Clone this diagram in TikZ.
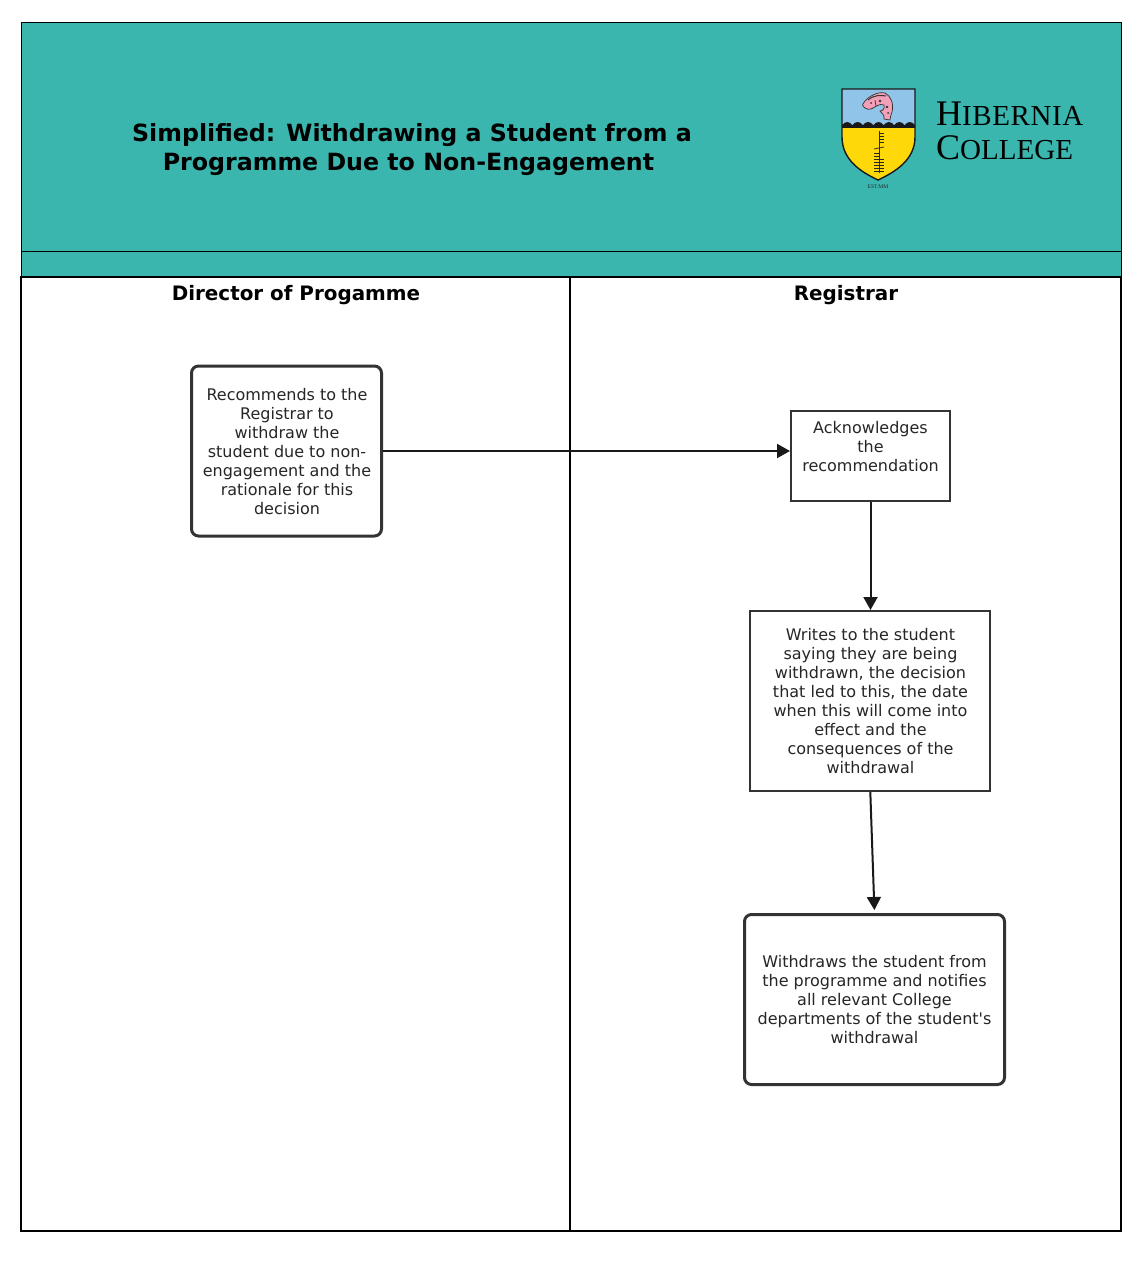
\documentclass[tikz,border=0pt]{standalone}
\usepackage{fontspec}
\setmainfont[Ligatures=TeXOff]{DejaVu Sans}
\newfontfamily\logofont{Liberation Serif}
\usetikzlibrary{arrows.meta}
\definecolor{teal1}{HTML}{3AB6AE}
\definecolor{sky1}{HTML}{90C4E8}
\definecolor{gold1}{HTML}{FFD80A}
\definecolor{pink1}{HTML}{F2A0B8}
\definecolor{edge1}{HTML}{333333}
\tikzset{
  x=1pt,y=-1pt,
  body/.style={font=\fontsize{16pt}{19pt}\selectfont,align=center,text=black!85,inner sep=0pt},
  plainbox/.style={draw=edge1,line width=2pt,fill=white,minimum width=#1,inner sep=0pt},
  roundbox/.style={draw=edge1,line width=3pt,rounded corners=7pt,fill=white,inner sep=0pt},
  link/.style={draw=black!90,line width=2pt,-{Triangle[length=13pt,width=14pt]}},
  lane/.style={draw=black,line width=2pt},
  lanehead/.style={font=\fontsize{19.9pt}{24pt}\selectfont\bfseries,inner sep=0pt,text=black},
  logotext/.style={font=\logofont,anchor=base west,inner sep=0pt,text=black},
  logoline/.style={black!85,line width=0.7pt},
}
\begin{document}
\begin{tikzpicture}
\useasboundingbox (0,0) rectangle (1143,1277);
\fill[white] (0,0) rectangle (1143,1277);
% header
\fill[teal1] (21,22) rectangle (1121,277);
\draw[black,line width=1pt] (21,22) rectangle (1121,251);
\draw[black,line width=1pt] (21,251) -- (21,277) (1121,251) -- (1121,277);
% lanes
\draw[lane] (21,277) rectangle (1121,1231);
\draw[lane] (570,277) -- (570,1231);
\node[lanehead] (h1) at (296,295) {Director of Progamme};
\node[lanehead] (h2) at (846,295) {Registrar};
\node[font=\fontsize{23.7pt}{29pt}\selectfont\bfseries,align=center,inner sep=0pt,text=black] (title) at (412,150)
  {Simplified: Withdrawing a Student from a\\Programme Due to Non-Engagement\kern7pt};
% logo shield
\fill[sky1] (842,89) rectangle (915,125);
\fill[gold1] (842,127) -- (915,127) -- (915,137) .. controls (915,160) and (895,172) .. (878,180) .. controls (861,172) and (842,160) .. (842,137) -- cycle;
\fill[black!90] (842,125) rectangle (915,127.5);
\foreach \xx in {842,852.43,862.86,873.29,883.72,894.15,904.58}{
  \fill[black!90] (\xx,125.2) .. controls (\xx+3,121) and (\xx+7.4,121) .. (\xx+10.43,125.2) -- cycle;}
\draw[black!90,line width=1.4pt] (842,89) -- (915,89) -- (915,137) .. controls (915,160) and (895,172) .. (878,180) .. controls (861,172) and (842,160) .. (842,137) -- cycle;
% fish
\fill[pink1,draw=black!80,line width=0.7pt] (862.5,105) .. controls (866,97) and (878,91) .. (885,93) .. controls (891,96) and (894,104) .. (892,112) .. controls (891,115) and (890,117) .. (890,120) .. controls (888,119) and (885,120) .. (884,119) .. controls (885,116) and (882,113) .. (880,111) .. controls (883,111) and (885,108) .. (884,105) .. controls (879,103) and (876,107) .. (871,109) .. controls (867,110) and (864,108) .. (862.5,105) -- cycle;
\draw[black!80,line width=1pt] (868,100) .. controls (874,95) and (880,95) .. (886,96);
\fill[black!80] (871,103) circle (1pt) (880,101) circle (1.3pt) (887,107) circle (1.3pt) (888,113) circle (1pt);
\draw[black!80,line width=0.7pt] (875,100) -- (876,106);
% ogham
\draw[logoline] (879,131) -- (879,173);
\foreach \yy in {133,136,139,142}{\draw[logoline] (879,\yy) -- (884,\yy);}
\draw[logoline] (874,149) -- (884,147);
\foreach \yy in {153,156}{\draw[logoline] (874,\yy) -- (879,\yy);}
\foreach \yy in {159,162,165,168,171}{\draw[logoline] (874,\yy) -- (884,\yy);}
\node[font=\logofont\fontsize{5.5pt}{6pt}\selectfont,inner sep=0pt,text=black!85] (est) at (878,187) {EST.MM};
% logo words
\node[logotext] (w1) at (936,125) {{\fontsize{36pt}{36pt}\selectfont H}{\fontsize{29pt}{29pt}\selectfont\addfontfeature{LetterSpace=2}IBERNIA}};
\node[logotext] (w2) at (936,159) {{\fontsize{36pt}{36pt}\selectfont C}{\fontsize{29pt}{29pt}\selectfont OLLEGE}};
% boxes
\node[roundbox,minimum width=190pt,minimum height=170pt] (a) at (286.5,451) {};
\node[body] (at) at (287,452) {Recommends to the\\Registrar to\\withdraw the\\student due to non-\\engagement and the\\rationale for this\\decision};
\node[plainbox=159pt,minimum height=90pt] (b) at (870.5,456) {};
\node[body] (bt) at (870.5,447) {Acknowledges\\the\\recommendation};
\node[plainbox=240pt,minimum height=180pt] (c) at (870.3,701) {};
\node[body] (ct) at (870.5,701.5) {Writes to the student\\saying they are being\\withdrawn, the decision\\that led to this, the date\\when this will come into\\effect and the\\consequences of the\\withdrawal};
\node[roundbox,minimum width=260pt,minimum height=170pt] (d) at (874.5,999.5) {};
\node[body] (dt) at (874.5,1000) {Withdraws the student from\\the programme and notifies\\all relevant College\\departments of the student's\\withdrawal};
% connectors
\draw[link] (a.east) -- (a.east -| b.west);
\draw[link] (b.south) -- (b.south |- c.north);
\draw[link,shorten >=3pt] (c.south) -- (d.north);
\end{tikzpicture}
\end{document}
